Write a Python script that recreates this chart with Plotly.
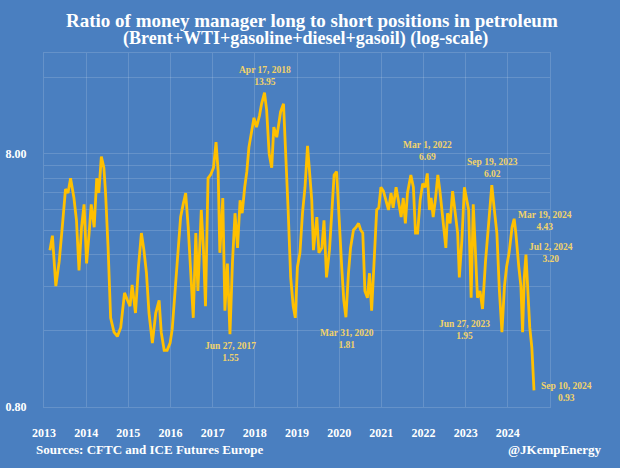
# Money manager long/short ratio in petroleum, weekly, log scale.
import math
import plotly.graph_objects as go

# dates as decimal years, ratio of long to short positions
years = [2013.14, 2013.20, 2013.28, 2013.36, 2013.43, 2013.51, 2013.57, 2013.63, 2013.71, 2013.77,
         2013.83, 2013.89, 2013.95, 2014.01, 2014.07, 2014.12, 2014.19, 2014.25, 2014.30, 2014.36,
         2014.42, 2014.46, 2014.52, 2014.58, 2014.66, 2014.74, 2014.82, 2014.91, 2014.98, 2015.04,
         2015.09, 2015.17, 2015.24, 2015.31, 2015.37, 2015.43, 2015.49, 2015.57, 2015.65, 2015.73,
         2015.78, 2015.85, 2015.92, 2015.99, 2016.04, 2016.12, 2016.18, 2016.24, 2016.30, 2016.36,
         2016.42, 2016.48, 2016.54, 2016.60, 2016.65, 2016.73, 2016.78, 2016.83, 2016.89, 2016.95,
         2017.02, 2017.08, 2017.13, 2017.17, 2017.24, 2017.29, 2017.35, 2017.41, 2017.47, 2017.53,
         2017.59, 2017.65, 2017.70, 2017.76, 2017.81, 2017.86, 2017.93, 2017.98, 2018.04, 2018.11,
         2018.16, 2018.23, 2018.28, 2018.34, 2018.40, 2018.45, 2018.52, 2018.57, 2018.61, 2018.68,
         2018.74, 2018.79, 2018.85, 2018.91, 2018.96, 2019.01, 2019.07, 2019.13, 2019.19, 2019.25,
         2019.29, 2019.35, 2019.39, 2019.47, 2019.52, 2019.59, 2019.64, 2019.70, 2019.77, 2019.82,
         2019.88, 2019.94, 2020.00, 2020.06, 2020.11, 2020.16, 2020.22, 2020.27, 2020.34, 2020.40,
         2020.46, 2020.51, 2020.56, 2020.61, 2020.67, 2020.72, 2020.77, 2020.83, 2020.89, 2020.94,
         2020.99, 2021.05, 2021.11, 2021.17, 2021.23, 2021.28, 2021.35, 2021.41, 2021.47, 2021.52,
         2021.57, 2021.62, 2021.70, 2021.76, 2021.81, 2021.86, 2021.92, 2021.98, 2022.04, 2022.09,
         2022.14, 2022.18, 2022.23, 2022.28, 2022.34, 2022.39, 2022.44, 2022.49, 2022.53, 2022.57,
         2022.63, 2022.69, 2022.75, 2022.81, 2022.85, 2022.91, 2022.97, 2023.02, 2023.07, 2023.13,
         2023.18, 2023.23, 2023.28, 2023.34, 2023.40, 2023.47, 2023.52, 2023.56, 2023.62, 2023.68,
         2023.74, 2023.80, 2023.86, 2023.92, 2023.97, 2024.03, 2024.10, 2024.15, 2024.19, 2024.26,
         2024.31, 2024.35, 2024.39, 2024.43, 2024.47, 2024.52, 2024.57, 2024.62]
ratio = [3.33, 3.8, 2.4, 3.0, 4.05, 5.8, 5.6, 6.4, 5.35, 4.37,
         2.77, 4.1, 5.05, 2.95, 3.89, 5.05, 4.1, 6.4, 5.6, 7.8,
         7.05, 5.6, 3.4, 1.8, 1.58, 1.52, 1.65, 2.26, 2.11, 2.0,
         2.43, 1.88, 2.86, 3.89, 3.33, 2.7, 1.88, 1.43, 1.88, 2.11,
         1.58, 1.34, 1.34, 1.43, 1.62, 2.4, 3.4, 4.5, 5.05, 5.6,
         4.1, 2.86, 1.8, 3.89, 2.3, 4.8, 3.4, 2.0, 6.4, 6.6,
         7.05, 8.9, 6.8, 3.25, 5.35, 1.92, 2.95, 1.55, 3.0, 4.66,
         3.4, 5.24, 4.66, 5.9, 6.8, 8.5, 9.9, 11.1, 10.2, 11.3,
         12.6, 13.95, 11.9, 8.0, 7.05, 10.2, 9.3, 10.85, 11.7, 12.6,
         7.8, 4.8, 2.6, 2.0, 1.8, 2.86, 3.25, 4.66, 5.9, 8.6,
         7.05, 5.24, 3.33, 4.5, 3.25, 3.4, 4.37, 2.6, 3.33, 4.8,
         6.6, 6.8, 4.1, 2.86, 2.11, 1.81, 2.7, 3.4, 4.0, 4.1,
         4.25, 4.0, 3.89, 2.3, 2.16, 2.7, 1.92, 3.25, 4.8, 4.9,
         5.9, 5.7, 5.24, 4.8, 5.6, 4.9, 5.9, 5.24, 4.5, 5.35,
         4.25, 5.6, 6.6, 5.9, 3.89, 3.89, 5.24, 6.1, 5.9, 6.69,
         4.8, 5.35, 4.5, 5.24, 6.6, 5.7, 4.8, 4.1, 3.4, 4.66,
         4.25, 5.7, 4.8, 3.89, 2.6, 3.64, 5.9, 5.35, 4.8, 2.16,
         5.05, 3.33, 2.16, 2.3, 1.95, 3.0, 3.89, 4.8, 6.02, 4.8,
         3.89, 2.3, 1.58, 2.4, 2.86, 3.25, 4.1, 4.43, 3.89, 2.86,
         2.4, 1.58, 2.6, 3.20, 2.4, 1.65, 1.37, 0.93]

year_ticks = list(range(2013, 2025))
y_ticks = [0.8, 8]
y_tick_text = ['0.80', '8.00']

# labelled highs and lows: (x, value, date text, offset px)
callouts = [(2018.23, 13.95, 'Apr 17, 2018', 0, 17),
            (2017.41, 1.55, 'Jun 27, 2017', 1, -18),
            (2020.16, 1.81, 'Mar 31, 2020', 1, -22),
            (2022.09, 6.69, 'Mar 1, 2022', 0, 22),
            (2023.62, 6.02, 'Sep 19, 2023', 1, 17),
            (2023.40, 1.95, 'Jun 27, 2023', -18, -21),
            (2024.15, 4.43, 'Mar 19, 2024', 31, -2),
            (2024.43, 3.20, 'Jul 2, 2024', 25, 2),
            (2024.62, 0.93, 'Sep 10, 2024', 33, -2)]

bg = '#4a7fc0'
grid = 'rgba(255,255,255,0.15)'
gold = '#ffc000'
label_col = '#f2d36a'
serif = 'Liberation Serif, Times New Roman, DejaVu Serif, serif'

fig = go.Figure(go.Scatter(x=years, y=ratio, mode='lines', line=dict(color=gold, width=2.8),
                           showlegend=False, hoverinfo='skip'))

# log axis: annotation y goes in as log10 of the value
for x, v, d, dx, dy in callouts:
    fig.add_annotation(x=x, y=math.log10(v), xref='x', yref='y', text=f'{d}<br>{v:.2f}', showarrow=False,
                       xshift=dx, yshift=dy, font=dict(family=serif, size=9.5, color=label_col, weight='bold'))

# titles and footer
fig.add_annotation(x=0.53, y=1.093, xref='paper', yref='paper', yanchor='middle', showarrow=False,
                   text='<b>Ratio of money manager long to short positions in petroleum</b>',
                   font=dict(family=serif, size=19, color='white'))
fig.add_annotation(x=0.517, y=1.042, xref='paper', yref='paper', yanchor='middle', showarrow=False,
                   text='<b>(Brent+WTI+gasoline+diesel+gasoil) (log-scale)</b>',
                   font=dict(family=serif, size=18, color='white'))
fig.add_annotation(x=-0.02, y=-0.121, xref='paper', yref='paper', xanchor='left', yanchor='middle',
                   showarrow=False, text='Sources: CFTC and ICE Futures Europe',
                   font=dict(family=serif, size=13, color='white', weight='bold'))
fig.add_annotation(x=1.105, y=-0.121, xref='paper', yref='paper', xanchor='right', yanchor='middle',
                   showarrow=False, text='@JKempEnergy',
                   font=dict(family=serif, size=13, color='white', weight='bold'))

fig.update_layout(width=620, height=468, paper_bgcolor=bg, plot_bgcolor=bg,
                  margin=dict(l=44, r=70, t=53, b=61),
                  xaxis=dict(range=[2013, 2025], tickvals=year_ticks, ticktext=[str(y) for y in year_ticks],
                             showgrid=True, gridcolor=grid, gridwidth=1, zeroline=False, automargin=False,
                             showline=True, linecolor=grid, mirror=True,
                             ticks='outside', ticklen=15, tickcolor='rgba(0,0,0,0)',
                             tickfont=dict(family=serif, size=12, color='white', weight='bold')),
                  yaxis=dict(type='log', range=[-0.0969, 1.301], tickvals=y_ticks, ticktext=y_tick_text,
                             showgrid=True, gridcolor=grid, gridwidth=1, zeroline=False, automargin=False,
                             showline=True, linecolor=grid, mirror=True,
                             ticks='outside', ticklen=14, tickcolor='rgba(0,0,0,0)',
                             tickfont=dict(family=serif, size=12, color='white', weight='bold'),
                             minor=dict(tickvals=[0.8 * k for k in range(2, 10)] + [16],
                                        showgrid=True, gridcolor=grid, ticks='')))

# page body has a default 8px margin; drop it so the chart sits at the window corner
fig.write_html("out.html", config={'displayModeBar': False},
               post_script="document.body.style.margin='0';")
